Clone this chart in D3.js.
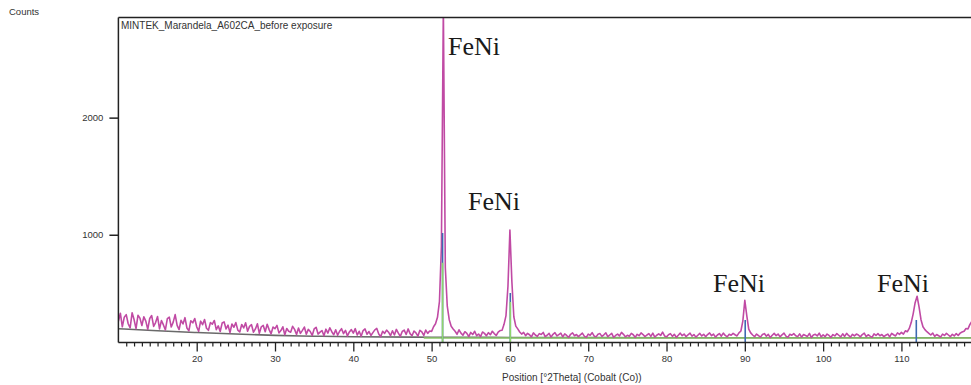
<!DOCTYPE html>
<html>
<head>
<meta charset="utf-8">
<script src="https://cdn.jsdelivr.net/npm/d3@7"></script>
<style>
  html, body { margin: 0; padding: 0; background: #fff; }
  svg { display: block; }
</style>
</head>
<body>
<svg id="chart" width="971" height="385"></svg>
<script>
// ---------------- DATA ----------------
const chartTitle = "MINTEK_Marandela_A602CA_before exposure";
const yTitle = "Counts";
const xTitle = "Position [°2Theta] (Cobalt (Co))";

// scan: start angle and step (°2Theta), counts
const scanStart = 10;
const scanStep = 0.25;
const counts = [
  262, 330, 214, 296,   // 10
  318, 240, 205, 334,   // 11
  276, 198, 312, 288,   // 12
  225, 300, 262, 192,   // 13
  285, 310, 218, 250,   // 14
  302, 196, 268, 230,   // 15
  188, 284, 296, 212,   // 16
  254, 318, 226, 190,   // 17
  270, 238, 292, 204,   // 18
  180, 266, 248, 285,   // 19
  214, 176, 262, 232,   // 20
  276, 202, 184, 250,   // 21
  236, 268, 190, 222,   // 22
  174, 246, 256, 196,   // 23
  228, 164, 238, 210,   // 24
  250, 186, 170, 234,   // 25
  204, 248, 176, 218,   // 26
  232, 168, 196, 240,   // 27
  158, 214, 226, 172,   // 28
  236, 190, 154, 212,   // 29
  198, 226, 162, 182,   // 30
  214, 146, 200, 176,   // 31
  168, 218, 192, 148,   // 32
  204, 158, 184, 212,   // 33
  150, 192, 174, 140,   // 34
  196, 210, 152, 168,   // 35
  182, 138, 194, 160,   // 36
  206, 172, 146, 188,   // 37
  142, 176, 198, 156,   // 38
  184, 136, 170, 190,   // 39
  160, 198, 144, 176,   // 40
  134, 182, 196, 150,   // 41
  174, 140, 164, 188,   // 42
  200, 152, 130, 176,   // 43
  158, 186, 168, 138,   // 44
  180, 144, 192, 160,   // 45
  132, 174, 186, 148,   // 46
  196, 156, 138, 178,   // 47
  162, 134, 184, 170,   // 48
  140, 186, 158, 178,   // 49
  175, 215, 240, 295,   // 50
  430, 900, 2950, 720,  // 51
  390, 275, 218, 196,   // 52
  176, 150, 188, 160,   // 53
  142, 172, 158, 130,   // 54
  166, 148, 176, 138,   // 55
  152, 130, 170, 158,   // 56
  138, 164, 146, 176,   // 57
  156, 140, 168, 182,   // 58
  185, 235, 310, 560,   // 59
  1040, 600, 300, 220,  // 60
  196, 170, 152, 166,   // 61
  138, 158, 146, 128,   // 62
  162, 144, 132, 156,   // 63
  148, 166, 130, 142,   // 64
  158, 126, 150, 164,   // 65
  136, 148, 160, 128,   // 66
  154, 140, 124, 150,   // 67
  162, 138, 148, 130,   // 68
  146, 160, 134, 124,   // 69
  152, 142, 164, 136,   // 70
  128, 150, 156, 132,   // 71
  146, 162, 130, 144,   // 72
  158, 124, 140, 152,   // 73
  136, 166, 150, 128,   // 74
  142, 134, 158, 146,   // 75
  124, 150, 138, 162,   // 76
  148, 130, 144, 156,   // 77
  132, 160, 126, 142,   // 78
  154, 140, 168, 136,   // 79
  128, 146, 156, 132,   // 80
  150, 124, 142, 160,   // 81
  138, 152, 130, 146,   // 82
  160, 134, 148, 126,   // 83
  142, 158, 136, 150,   // 84
  130, 148, 162, 138,   // 85
  152, 126, 144, 156,   // 86
  134, 160, 140, 128,   // 87
  150, 142, 158, 146,   // 88
  136, 162, 178, 265,   // 89
  440, 310, 195, 162,   // 90
  144, 130, 152, 138,   // 91
  126, 148, 156, 134,   // 92
  150, 122, 142, 158,   // 93
  138, 152, 128, 146,   // 94
  160, 134, 124, 150,   // 95
  142, 156, 138, 130,   // 96
  154, 126, 148, 140,   // 97
  132, 158, 122, 144,   // 98
  150, 136, 160, 128,   // 99
  146, 130, 152, 140,   // 100
  124, 148, 136, 156,   // 101
  142, 128, 154, 132,   // 102
  158, 140, 126, 150,   // 103
  136, 152, 144, 128,   // 104
  148, 160, 130, 146,   // 105
  134, 124, 154, 140,   // 106
  156, 138, 148, 130,   // 107
  142, 152, 128, 158,   // 108
  146, 136, 162, 150,   // 109
  166, 152, 180, 172,   // 110
  200, 250, 325, 420,   // 111
  475, 385, 275, 215,   // 112
  190, 172, 158, 144,   // 113
  160, 132, 148, 138,   // 114
  126, 152, 140, 158,   // 115
  144, 130, 150, 136,   // 116
  156, 140, 160, 170,   // 117
  176, 200, 196, 235,   // 118
  260                   // 119
];

// fitted background (grey line)
const bgPos    = [10, 15, 20, 25, 30, 35, 40, 50, 60, 80, 119];
const bgCounts = [198, 180, 165, 152, 141, 134, 129, 125, 123, 121, 120];

// reference baseline (green horizontal)
const basePos    = [49, 119];
const baseCounts = [118, 118];

// reference pattern sticks
const stickPos    = [51.4, 60.05, 90.05, 111.9];
const stickBlue   = [1016, 503, 272, 272];
const stickGreen  = [760, 426, 0, 0];

// peak labels (anchor in °2Theta / counts)
const peakLabels = ["FeNi", "FeNi", "FeNi", "FeNi"];
const labelPos   = [52.1, 54.65, 85.94, 106.88];
const labelCount = [2539, 1213, 512, 512];

// axis ticks
const yTicks = [1000, 2000];
const xMajor = [20, 30, 40, 50, 60, 70, 80, 90, 100, 110];
const xMinor = d3.range(11, 119).filter(v => v % 10 !== 0);

// ---------------- DRAW ----------------
const svg = d3.select("#chart");
const W = 971, H = 385;
const mLeft = 118.4, mRight = 971.9, mTop = 17.5, mBottom = 342.5;

const x = d3.scaleLinear().domain([10, 119]).range([mLeft, mRight]);
const y = d3.scaleLinear().domain([80, 2855]).range([mBottom, mTop]);

svg.append("rect").attr("width", W).attr("height", H).attr("fill", "#fff");

svg.append("defs").append("clipPath").attr("id", "plotclip")
  .append("rect").attr("x", mLeft).attr("y", mTop).attr("width", mRight - mLeft).attr("height", mBottom - mTop);

const plot = svg.append("g").attr("clip-path", "url(#plotclip)");

const straight = d3.line().x(d => x(d[0])).y(d => y(d[1]));
const smooth = d3.line().x(d => x(d[0])).y(d => y(d[1])).curve(d3.curveMonotoneX);

// background
plot.append("path")
  .attr("d", smooth(bgPos.map((p, i) => [p, bgCounts[i]])))
  .attr("fill", "none").attr("stroke", "#6a6a6a").attr("stroke-width", 1.6);

plot.append("path")
  .attr("d", straight(basePos.map((p, i) => [p, baseCounts[i]])))
  .attr("fill", "none").attr("stroke", "#8cc96a").attr("stroke-width", 1.4);

// observed scan
const scan = counts.map((c, i) => [scanStart + i * scanStep, c]);
plot.append("path")
  .attr("d", straight(scan))
  .attr("fill", "none").attr("stroke", "#c04aa4").attr("stroke-width", 1.6)
  .attr("stroke-linejoin", "round");

// sticks
const sticks = stickPos.map((p, i) => ({ p, blue: stickBlue[i], green: stickGreen[i] }));
plot.selectAll(".stickB").data(sticks).enter().append("line")
  .attr("x1", d => x(d.p)).attr("x2", d => x(d.p))
  .attr("y1", y(80)).attr("y2", d => y(d.blue))
  .attr("stroke", "#3d6ab0").attr("stroke-width", 1.6);
plot.selectAll(".stickG").data(sticks.filter(d => d.green > 0)).enter().append("line")
  .attr("x1", d => x(d.p)).attr("x2", d => x(d.p))
  .attr("y1", y(80)).attr("y2", d => y(d.green))
  .attr("stroke", "#8fd46c").attr("stroke-width", 1.6);

// frame: top border
svg.append("line").attr("x1", mLeft).attr("x2", W).attr("y1", mTop).attr("y2", mTop)
  .attr("stroke", "#222").attr("stroke-width", 1.5);

// axes
const font = "'Liberation Sans', Arial, sans-serif";
const yAxis = svg.append("g").attr("transform", `translate(${mLeft},0)`)
  .call(d3.axisLeft(y).tickValues(yTicks).tickSize(9).tickPadding(6).tickFormat(d3.format("d")));
yAxis.select(".domain").attr("d", `M0,${mTop}V${mBottom}`).attr("stroke", "#222").attr("stroke-width", 1.5);
yAxis.selectAll(".tick line").attr("stroke", "#222").attr("stroke-width", 1.5);
yAxis.selectAll("text").attr("font-family", font).attr("font-size", 9.5).attr("fill", "#333");

const xAxis = svg.append("g").attr("transform", `translate(0,${mBottom})`)
  .call(d3.axisBottom(x).tickValues(xMajor).tickSize(9).tickPadding(4).tickFormat(d3.format("d")));
xAxis.select(".domain").attr("d", `M${mLeft},0H${W}`).attr("stroke", "#222").attr("stroke-width", 1.5);
xAxis.selectAll(".tick line").attr("stroke", "#222").attr("stroke-width", 1.3);
xAxis.selectAll("text").attr("font-family", font).attr("font-size", 9.5).attr("fill", "#333");

const xMinorAxis = svg.append("g").attr("transform", `translate(0,${mBottom})`)
  .call(d3.axisBottom(x).tickValues(xMinor).tickSize(4).tickFormat(""));
xMinorAxis.select(".domain").remove();
xMinorAxis.selectAll(".tick line").attr("stroke", "#222").attr("stroke-width", 1.2);

// titles
svg.append("text").attr("x", 9).attr("y", 14.5).text(yTitle)
  .attr("font-family", font).attr("font-size", 9.5).attr("fill", "#333");
svg.append("text").attr("x", 121).attr("y", 28.5).text(chartTitle)
  .attr("font-family", font).attr("font-size", 10).attr("fill", "#333");
svg.append("text").attr("x", 502).attr("y", 381).text(xTitle)
  .attr("font-family", font).attr("font-size", 10).attr("fill", "#333");

// peak labels
svg.selectAll(".peakLabel").data(peakLabels).enter().append("text")
  .attr("x", (d, i) => x(labelPos[i])).attr("y", (d, i) => y(labelCount[i]))
  .text(d => d)
  .attr("font-family", "'Liberation Serif', 'Times New Roman', serif")
  .attr("font-size", 26).attr("fill", "#1a1a1a");
</script>
</body>
</html>
